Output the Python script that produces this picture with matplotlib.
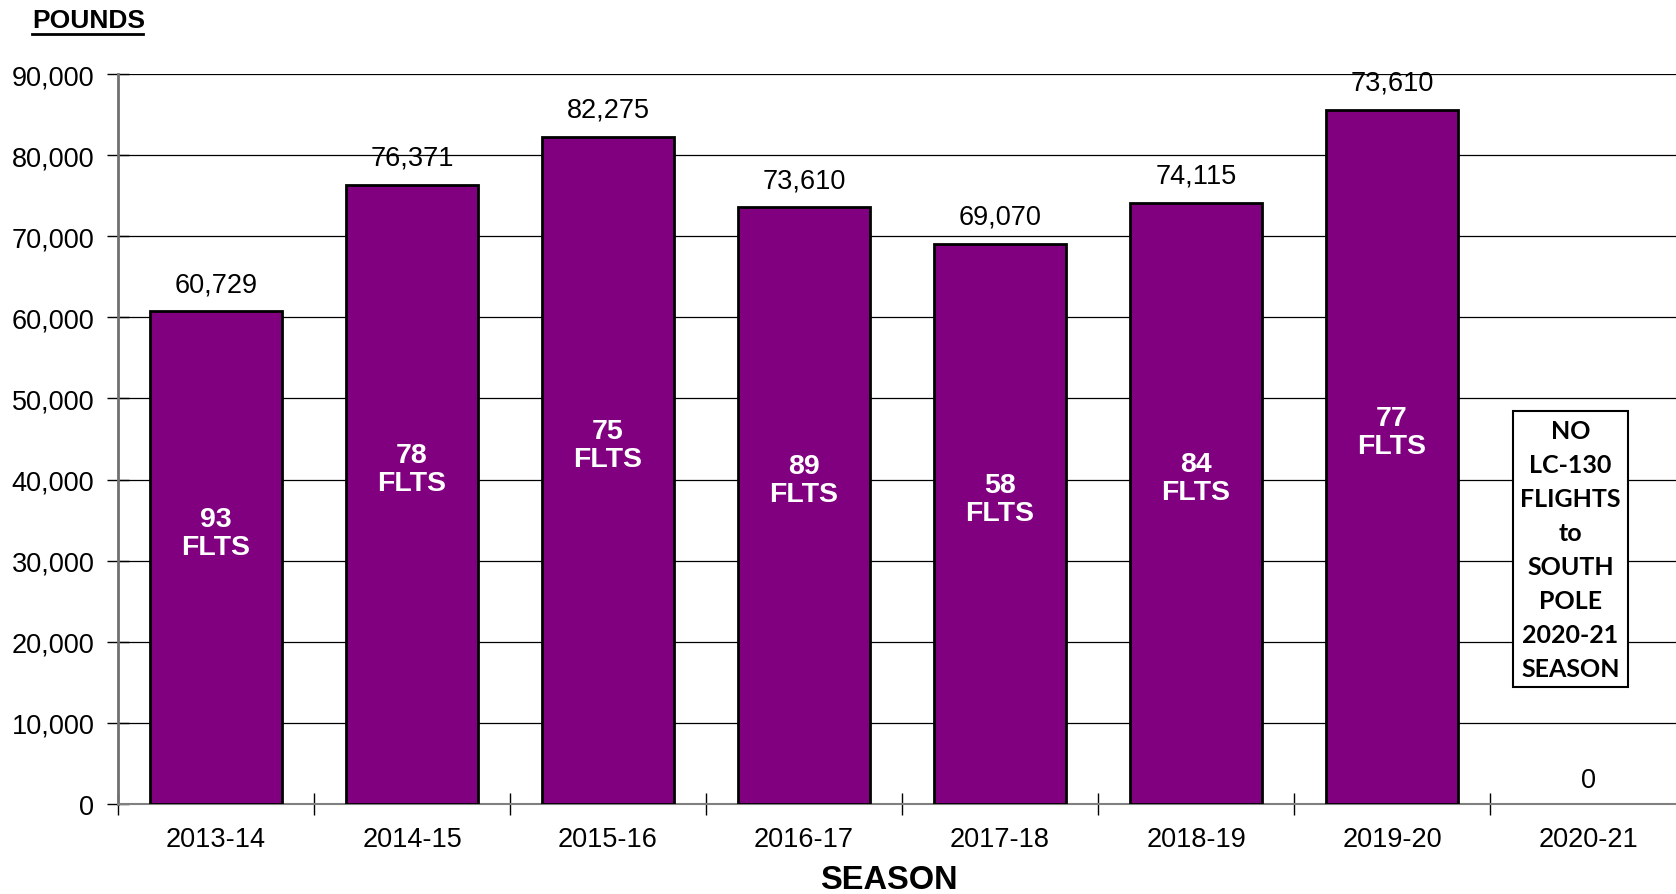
import matplotlib
matplotlib.use("Agg")
import matplotlib.pyplot as plt
import numpy as np

plt.rcParams['font.family'] = ['Liberation Sans', 'DejaVu Sans']

seasons = ['2013-14', '2014-15', '2015-16', '2016-17', '2017-18', '2018-19', '2019-20', '2020-21']
pounds = [60729, 76371, 82275, 73610, 69070, 74115, 85600, 0]
# labels as printed on the chart (2019-20 label repeats 73,610 in the source)
top_labels = ['60,729', '76,371', '82,275', '73,610', '69,070', '74,115', '73,610', '0']
flights = ['93', '78', '75', '89', '58', '84', '77', None]
note = 'NO\nLC-130\nFLIGHTS\nto\nSOUTH\nPOLE\n2020-21\nSEASON'
yticks = np.arange(0, 90001, 10000)

fs = 19.5
fig = plt.figure(figsize=(16.76, 8.95), dpi=100)
ax = fig.add_axes([0.0704, 0.1006, 0.9356, 0.8156])

x = np.arange(len(seasons))
bars = ax.bar(x, pounds, width=0.67, color='#800080', edgecolor='black', linewidth=2, zorder=3)
for b, v in zip(bars, pounds):
    if v == 0:
        b.set_linewidth(0)

ax.set_xlim(-0.5, 7.5)
ax.set_ylim(0, 90000)
ax.set_yticks(yticks)
ax.set_yticklabels([f'{v:,}' for v in yticks], fontsize=fs)
ax.yaxis.grid(True, color='black', linewidth=0.9, zorder=0)

# category boundary ticks on x axis, labels at centers
ax.set_xticks(np.arange(-0.5, 7.6, 1.0))
ax.set_xticklabels([])
ax.set_xticks(x, minor=True)
ax.set_xticklabels(seasons, minor=True, fontsize=fs)
ax.tick_params(axis='x', which='minor', length=0, pad=16)
ax.tick_params(axis='x', which='major', direction='inout', length=16, width=1)
ax.tick_params(axis='y', direction='inout', length=16, width=1, pad=9)

for s in ['top', 'right']:
    ax.spines[s].set_visible(False)
ax.spines['left'].set_color('#707070')
ax.spines['left'].set_linewidth(2)
ax.spines['bottom'].set_color('#808080')
ax.spines['bottom'].set_linewidth(1.5)

for i, (v, lab) in enumerate(zip(pounds, top_labels)):
    ax.annotate(lab, (x[i], v), xytext=(0, 10 if v > 0 else 8), textcoords='offset points',
                ha='center', va='bottom', fontsize=fs)
    if flights[i]:
        ax.annotate(flights[i] + '\nFLTS', (x[i], v / 2), xytext=(0, 18),
                    textcoords='offset points', ha='center', va='center',
                    fontsize=20.5, fontweight='bold', color='white', linespacing=1.1)

ax.text(6.91, 31400, note, ha='center', va='center', fontsize=18, fontweight='bold',
        family=['Lato', 'DejaVu Sans'], linespacing=1.58, zorder=4,
        bbox=dict(boxstyle='square,pad=0.3', facecolor='white', edgecolor='black', linewidth=1.5))

fig.text(0.019, 0.977, 'POUNDS', fontsize=19, fontweight='bold', ha='left', va='center')
fig.add_artist(plt.Line2D([0.019, 0.0855], [0.961, 0.961], color='black', linewidth=2,
                          transform=fig.transFigure))
fig.text(0.5306, 0.016, 'SEASON', fontsize=23.5, fontweight='bold', ha='center', va='center')

fig.savefig('out.png', dpi=100)
